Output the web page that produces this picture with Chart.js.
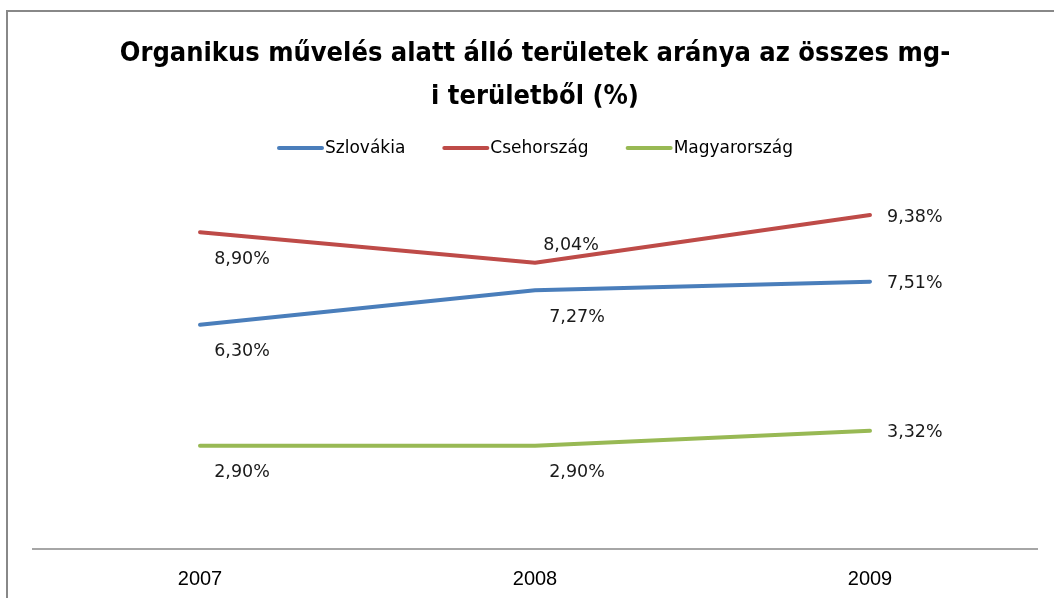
<!DOCTYPE html>
<html>
<head>
<meta charset="utf-8">
<script src="https://cdn.jsdelivr.net/npm/chart.js@4.4.0/dist/chart.umd.min.js"></script>
<style>
  html, body { margin: 0; padding: 0; background: #fff; }
  #wrap { width: 1054px; height: 598px; position: relative; }
</style>
</head>
<body>
<div id="wrap"><canvas id="c" width="1054" height="598"></canvas></div>
<script>
// ---- data ----
const titleLines = ['Organikus művelés alatt álló területek aránya az összes mg-', 'i területből (%)'];
const categories = ['2007', '2008', '2009'];
const seriesNames = ['Szlovákia', 'Csehország', 'Magyarország'];
const szlovakia = [6.30, 7.27, 7.51];
const csehorszag = [8.90, 8.04, 9.38];
const magyarorszag = [2.90, 2.90, 3.32];

// ---- styles ----
const colors = ['#4A7EBB', '#BE4B48', '#98B954'];
// label placement per series, per category
const labelPlacement = [
  ['below', 'below', 'right'],
  ['below', 'above', 'right'],
  ['below', 'below', 'right']
];
const labelFont = '17.5px "DejaVu Sans", sans-serif';

function fmt(v) { return v.toFixed(2).replace('.', ',') + '%'; }

const frame = {
  id: 'frame',
  beforeDraw(chart) {
    const ctx = chart.ctx;
    ctx.save();
    ctx.fillStyle = '#fff';
    ctx.fillRect(0, 0, chart.width, chart.height);
    ctx.strokeStyle = '#888888';
    ctx.lineWidth = 2;
    ctx.beginPath();
    ctx.moveTo(7, chart.height + 5);
    ctx.lineTo(7, 11);
    ctx.lineTo(chart.width + 5, 11);
    ctx.stroke();
    ctx.restore();
  }
};

const customLegend = {
  id: 'customLegend',
  afterDraw(chart) {
    const ctx = chart.ctx;
    ctx.save();
    ctx.font = '17px "DejaVu Sans", sans-serif';
    ctx.textBaseline = 'middle';
    ctx.textAlign = 'left';
    const lineLen = 47, gapText = 1, gapItem = 37;
    const items = chart.data.datasets.map(ds => ({ text: ds.label, color: ds.borderColor, w: ctx.measureText(ds.label).width }));
    let total = 0;
    items.forEach((it, i) => { total += lineLen + gapText + it.w + (i < items.length - 1 ? gapItem : 0); });
    const cx = (chart.chartArea.left + chart.chartArea.right) / 2;
    let x = cx - total / 2;
    const y = chart.chartArea.top - 45;
    items.forEach(it => {
      ctx.strokeStyle = it.color;
      ctx.lineWidth = 4;
      ctx.lineCap = 'round';
      ctx.beginPath();
      ctx.moveTo(x + 2, y);
      ctx.lineTo(x + lineLen - 2, y);
      ctx.stroke();
      ctx.fillStyle = '#000';
      ctx.fillText(it.text, x + lineLen + gapText, y + 1);
      x += lineLen + gapText + it.w + gapItem;
    });
    ctx.restore();
  }
};

const dataLabels = {
  id: 'dataLabels',
  afterDatasetsDraw(chart) {
    const ctx = chart.ctx;
    ctx.save();
    ctx.font = labelFont;
    ctx.fillStyle = '#1a1a1a';
    ctx.textBaseline = 'middle';
    chart.data.datasets.forEach((ds, di) => {
      const meta = chart.getDatasetMeta(di);
      meta.data.forEach((pt, i) => {
        const txt = fmt(ds.data[i]);
        const pos = labelPlacement[di][i];
        if (pos === 'right') {
          ctx.textAlign = 'left';
          ctx.fillText(txt, pt.x + 17, pt.y + 2);
        } else if (pos === 'above') {
          ctx.textAlign = 'center';
          ctx.fillText(txt, pt.x + 36, pt.y - 17);
        } else {
          ctx.textAlign = 'center';
          ctx.fillText(txt, pt.x + 42, pt.y + 27);
        }
      });
    });
    ctx.restore();
  }
};

const seriesData = [szlovakia, csehorszag, magyarorszag];

new Chart(document.getElementById('c'), {
  type: 'line',
  data: {
    labels: categories,
    datasets: seriesNames.map((name, i) => ({
      label: name,
      data: seriesData[i],
      borderColor: colors[i],
      backgroundColor: colors[i],
      borderWidth: 4,
      pointRadius: 0,
      tension: 0,
      borderCapStyle: 'round',
      borderJoinStyle: 'round'
    }))
  },
  options: {
    responsive: false,
    animation: false,
    devicePixelRatio: 1,
    layout: { padding: { left: 32.5, right: 16.5, top: 0, bottom: -11 } },
    plugins: {
      legend: { display: false },
      tooltip: { enabled: false },
      title: {
        display: true,
        text: titleLines,
        color: '#000',
        font: { family: '"Liberation Sans Narrow", "DejaVu Sans Condensed", "Liberation Sans", sans-serif', size: 27, weight: 'bold', lineHeight: 1.593 },
        padding: { top: 32.5, bottom: 74.5 }
      }
    },
    scales: {
      x: {
        offset: true,
        grid: { display: false, drawTicks: false },
        border: { display: true, color: '#A6A6A6', width: 2 },
        ticks: { color: '#000', font: { family: '"Liberation Sans", sans-serif', size: 20 }, padding: 18 }
      },
      y: {
        display: false,
        min: 0,
        max: 10
      }
    }
  },
  plugins: [frame, customLegend, dataLabels]
});
</script>
</body>
</html>
